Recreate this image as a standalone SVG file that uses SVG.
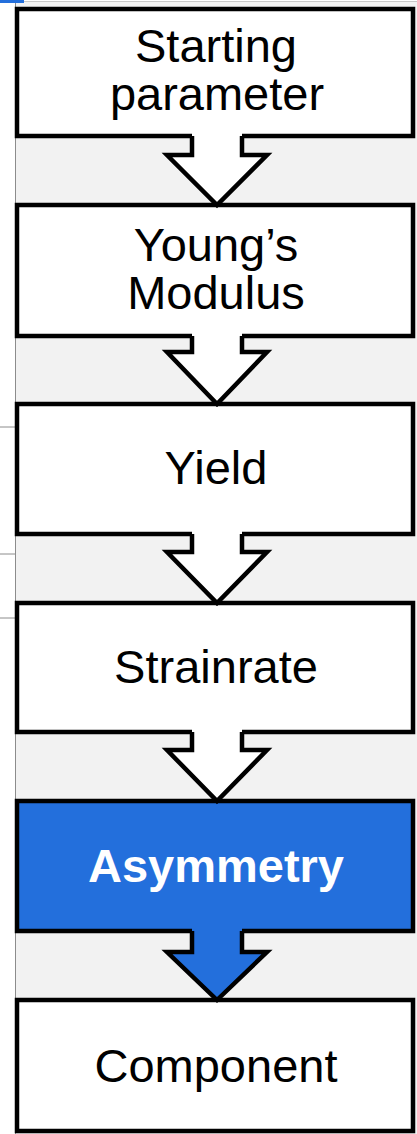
<svg xmlns="http://www.w3.org/2000/svg" width="417" height="1134" viewBox="0 0 417 1134">
<style>
.box{fill:#ffffff;stroke:#000000;stroke-width:4.5}
.hl{fill:#236fdc;stroke:#000000;stroke-width:4.5}
.af{fill:#ffffff;stroke:none}
.afb{fill:#236fdc;stroke:none}
.ao{fill:none;stroke:#000000;stroke-width:4.5;stroke-linejoin:miter;stroke-miterlimit:10}
.t{font-family:"Liberation Sans",Arial,Helvetica,sans-serif;font-size:47px;fill:#000000;text-anchor:middle}
.tb{font-family:"Liberation Sans",Arial,Helvetica,sans-serif;font-size:47px;font-weight:bold;fill:#ffffff;text-anchor:middle}
.side{stroke:#8c8c8c;stroke-width:1}
</style>
<rect x="0" y="0" width="417" height="1134" fill="#ffffff"/>
<rect x="15" y="2" width="402" height="1132" fill="#f2f2f2"/>
<line class="side" x1="15.5" y1="2" x2="15.5" y2="1134"/>
<line x1="24" y1="1.5" x2="417" y2="1.5" stroke="#c8c8c8" stroke-width="1"/>
<rect x="0" y="0" width="24" height="3" fill="#236fdc"/>
<line class="side" x1="0" y1="427" x2="15" y2="427"/>
<line class="side" x1="0" y1="554" x2="15" y2="554"/>
<line class="side" x1="0" y1="618" x2="15" y2="618"/>

<g id="node1"><rect class="box" x="17" y="9" width="396" height="127"/><text class="t" x="216" y="62">Starting</text><text class="t" x="217" y="110">parameter</text></g>
<g id="node2"><rect class="box" x="17" y="205" width="396" height="131"/><text class="t" x="216" y="261">Young’s</text><text class="t" x="216" y="309">Modulus</text></g>
<g id="node3"><rect class="box" x="17" y="404" width="396" height="130"/><text class="t" x="216" y="484">Yield</text></g>
<g id="node4"><rect class="box" x="17" y="603" width="396" height="129"/><text class="t" x="216" y="683">Strainrate</text></g>
<g id="node5"><rect class="hl" x="17" y="801" width="396" height="130"/><text class="tb" x="216" y="882">Asymmetry</text></g>
<g id="node6"><rect class="box" x="17" y="1000" width="396" height="131"/><text class="t" x="216" y="1082">Component</text></g>

<g id="connectors">
<g id="a1"><polygon class="af" points="192,131 242,131 242,155 267,155 217,205 167,155 192,155"/><polyline class="ao" points="192,136 192,155 167,155 217,205 267,155 242,155 242,136"/></g>
<g id="a2"><polygon class="af" points="192,331 242,331 242,352 267,352 217,404 167,352 192,352"/><polyline class="ao" points="192,336 192,352 167,352 217,404 267,352 242,352 242,336"/></g>
<g id="a3"><polygon class="af" points="192,529 242,529 242,552 267,552 217,603 167,552 192,552"/><polyline class="ao" points="192,534 192,552 167,552 217,603 267,552 242,552 242,534"/></g>
<g id="a4"><polygon class="af" points="192,727 242,727 242,750 267,750 217,801 167,750 192,750"/><polyline class="ao" points="192,732 192,750 167,750 217,801 267,750 242,750 242,732"/></g>
<g id="a5"><polygon class="afb" points="192,926 242,926 242,952 267,952 217,1000 167,952 192,952"/><polyline class="ao" points="192,931 192,952 167,952 217,1000 267,952 242,952 242,931"/></g>
</g>
</svg>
